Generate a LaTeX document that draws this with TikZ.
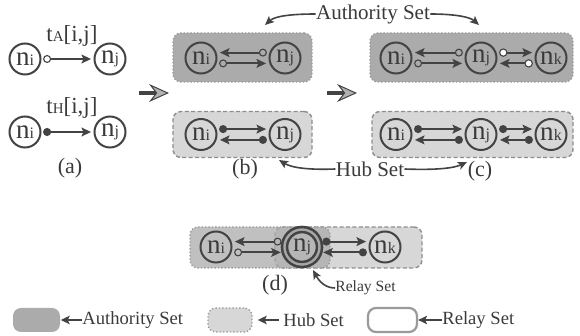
\documentclass[tikz,border=0pt]{standalone}
\usepackage{fontspec}
\setmainfont{Liberation Serif}
\usetikzlibrary{arrows.meta}

\definecolor{linec}{HTML}{434343}
\definecolor{txtc}{HTML}{3A3A3A}
\definecolor{authfill}{HTML}{ABABAB}
\definecolor{hubfill}{HTML}{D7D7D7}
\definecolor{setedge}{HTML}{9A9A9A}
\definecolor{hubedge}{HTML}{8E8E8E}

\newcommand{\nd}[1]{n{\fontsize{8}{8}\selectfont #1}}
\newcommand{\tw}[1]{t{\fontsize{7.5}{8}\selectfont #1}[i,j]}

\tikzset{
  peer/.style={circle, draw=linec, line width=1pt, minimum size=15.5pt, inner sep=0pt,
    text=txtc, font=\fontsize{13.5}{13.5}\selectfont},
  relaypeer/.style={peer, minimum size=17.5pt, line width=1.3pt, double=gray!70, double distance=1.2pt},
  authset/.style={rounded corners=4pt, fill=authfill, draw=setedge, densely dotted, line width=0.7pt},
  hubset/.style={rounded corners=4pt, fill=hubfill, draw=hubedge, dash pattern=on 2pt off 1.2pt, line width=0.7pt},
  relayset/.style={rounded corners=4pt, fill=white, draw=setedge, line width=1.1pt},
  lbl/.style={text=txtc, inner sep=0pt},
  link/.style={draw=linec, line width=1pt, shorten <=0.8pt, shorten >=1.2pt},
  aopen/.style={link, arrows={Circle[open,length=4pt,width=4pt,line width=0.55pt]-Stealth[length=4.8pt,width=4.4pt,inset=1pt]}},
  awhite/.style={link, arrows={Circle[fill=white,length=4.2pt,width=4.2pt,line width=0.55pt]-Stealth[length=4.8pt,width=4.4pt,inset=1pt]}},
  hdot/.style={link, arrows={Circle[length=4pt,width=4pt]-Stealth[length=4.8pt,width=4.4pt,inset=1pt]}},
  bigarrow/.style={draw=linec, line width=1.7pt, -{Stealth[length=10pt,width=9pt,inset=3.5pt,fill=gray!60,line width=0.5pt]}},
  callout/.style={draw=linec, line width=0.8pt, -{Stealth[length=4.5pt,width=4pt,inset=1pt]}},
  legarrow/.style={draw=linec, line width=0.9pt, -{Stealth[length=4.5pt,width=4.2pt,inset=1pt]}}
}

\begin{document}
\begin{tikzpicture}[x=0.5pt, y=-0.5pt]
\useasboundingbox (0,0) rectangle (580,336);

% (a)
\node (Ai) [peer] at (25,59) {\nd{i}};
\node (Aj) [peer] at (110,59) {\nd{j}};
\node (tA) [lbl, font=\fontsize{11.5}{11}\selectfont] at (72,36) {\tw{A}};
\draw[aopen] (Ai) -- (Aj);

\node (Hi) [peer] at (25,132) {\nd{i}};
\node (Hj) [peer] at (110,132) {\nd{j}};
\node (tH) [lbl, font=\fontsize{11.5}{11}\selectfont] at (72,108) {\tw{H}};
\draw[hdot] (Hi) -- (Hj);

\node (capA) [lbl, font=\fontsize{11}{11}\selectfont] at (70,168) {(a)};

\coordinate (arA1) at (139,93);
\coordinate (arA2) at (169,93);
\draw[bigarrow] (arA1) -- (arA2);

% (b)
\node (BA) [authset, minimum width=69.5pt, minimum height=24.5pt] at (242.5,57.5) {};
\node (BH) [hubset, minimum width=69.5pt, minimum height=23pt] at (242.5,134.5) {};

\node (Bi) [peer] at (201,58) {\nd{i}};
\node (Bj) [peer] at (285,58) {\nd{j}};
\draw[aopen] ([yshift=2.7pt]Bj.west) -- ([yshift=2.7pt]Bi.east);
\draw[aopen] ([yshift=-2.7pt]Bi.east) -- ([yshift=-2.7pt]Bj.west);

\node (Gi) [peer] at (201,134.5) {\nd{i}};
\node (Gj) [peer] at (285,134.5) {\nd{j}};
\draw[hdot] ([yshift=2.7pt]Gi.east) -- ([yshift=2.7pt]Gj.west);
\draw[hdot] ([yshift=-2.7pt]Gj.west) -- ([yshift=-2.7pt]Gi.east);

\node (capB) [lbl, font=\fontsize{11}{11}\selectfont] at (245,169) {(b)};

\coordinate (arB1) at (327,93);
\coordinate (arB2) at (357,93);
\draw[bigarrow] (arB1) -- (arB2);

% (c)
\node (CA) [authset, minimum width=101.5pt, minimum height=24.5pt] at (471.5,57.5) {};
\node (CH) [hubset, minimum width=100.5pt, minimum height=23pt] at (472.5,134.5) {};

\node (Ci) [peer] at (396,58) {\nd{i}};
\node (Cj) [peer] at (481,58) {\nd{j}};
\node (Ck) [peer] at (551,58) {\nd{k}};
\draw[aopen] ([yshift=2.7pt]Cj.west) -- ([yshift=2.7pt]Ci.east);
\draw[aopen] ([yshift=-2.7pt]Ci.east) -- ([yshift=-2.7pt]Cj.west);
\draw[awhite] ([yshift=2.7pt]Cj.east) -- ([yshift=2.7pt]Ck.west);
\draw[awhite] ([yshift=-2.7pt]Ck.west) -- ([yshift=-2.7pt]Cj.east);

\node (Di) [peer] at (396,134.5) {\nd{i}};
\node (Dj) [peer] at (481,134.5) {\nd{j}};
\node (Dk) [peer] at (551,134.5) {\nd{k}};
\draw[hdot] ([yshift=2.7pt]Di.east) -- ([yshift=2.7pt]Dj.west);
\draw[hdot] ([yshift=-2.7pt]Dj.west) -- ([yshift=-2.7pt]Di.east);
\draw[hdot] ([yshift=2.7pt]Dj.east) -- ([yshift=2.7pt]Dk.west);
\draw[hdot] ([yshift=-2.7pt]Dk.west) -- ([yshift=-2.7pt]Dj.east);

\node (capC) [lbl, font=\fontsize{11}{11}\selectfont] at (480,171) {(c)};

% set labels
\node (TopA) [lbl, font=\fontsize{10.5}{11}\selectfont] at (373,14) {Authority Set};
\coordinate (tipBA) at (265,25);
\coordinate (tipCA) at (479,25);
\draw[callout] (TopA.west) .. controls (292,14) and (275,16) .. (tipBA);
\draw[callout] (TopA.east) .. controls (455,14) and (470,17) .. (tipCA);

\node (HubL) [lbl, font=\fontsize{10.5}{11}\selectfont] at (370,169) {Hub Set};
\coordinate (tipBH) at (279,160);
\coordinate (tipCH) at (467,162);
\draw[callout] (HubL.west) .. controls (310,170) and (292,168) .. (tipBH);
\draw[callout] (HubL.east) .. controls (430,170) and (452,169) .. (tipCH);

% (d)
\node (EH) [hubset, minimum width=73.5pt, minimum height=20.5pt] at (348.5,247.5) {};
\node (EA) [authset, fill opacity=0.75, minimum width=70pt, minimum height=20.5pt] at (260,247.5) {};

\node (Ei) [peer] at (216,247) {\nd{i}};
\node (Ej) [relaypeer] at (302,247) {\nd{j}};
\node (Ek) [peer] at (385,247) {\nd{k}};
\draw[aopen] ([yshift=2.7pt]Ej.west) -- ([yshift=2.7pt]Ei.east);
\draw[aopen] ([yshift=-2.7pt]Ei.east) -- ([yshift=-2.7pt]Ej.west);
\draw[hdot] ([yshift=2.7pt]Ej.east) -- ([yshift=2.7pt]Ek.west);
\draw[hdot] ([yshift=-2.7pt]Ek.west) -- ([yshift=-2.7pt]Ej.east);

\node (capD) [lbl, font=\fontsize{11}{11}\selectfont] at (275,285) {(d)};
\node (RelL) [lbl, font=\fontsize{7.8}{8}\selectfont, anchor=west] at (335,288) {Relay Set};
\coordinate (tipEj) at (313,270);
\draw[callout] (RelL.west) .. controls (325,288) and (319,281) .. (tipEj);

% legend
\node (LA) [authset, draw=none, minimum width=23.5pt, minimum height=12pt] at (36.5,320) {};
\node (LAt) [lbl, font=\fontsize{9.3}{10}\selectfont, anchor=west] at (82,320) {Authority Set};
\draw[legarrow] (LAt.west) -- (LA.east);

\node (LH) [hubset, densely dotted, draw=setedge, minimum width=22pt, minimum height=12pt] at (230,320) {};
\node (LHt) [lbl, font=\fontsize{9.3}{10}\selectfont, anchor=west] at (283,320) {Hub Set};
\draw[legarrow] ([xshift=-2pt]LHt.west) -- ([xshift=2.5pt]LH.east);

\node (LR) [relayset, minimum width=24.5pt, minimum height=12pt] at (392.5,320) {};
\node (LRt) [lbl, font=\fontsize{9.3}{10}\selectfont, anchor=west] at (442,320) {Relay Set};
\draw[legarrow] (LRt.west) -- (LR.east);
\end{tikzpicture}
\end{document}
